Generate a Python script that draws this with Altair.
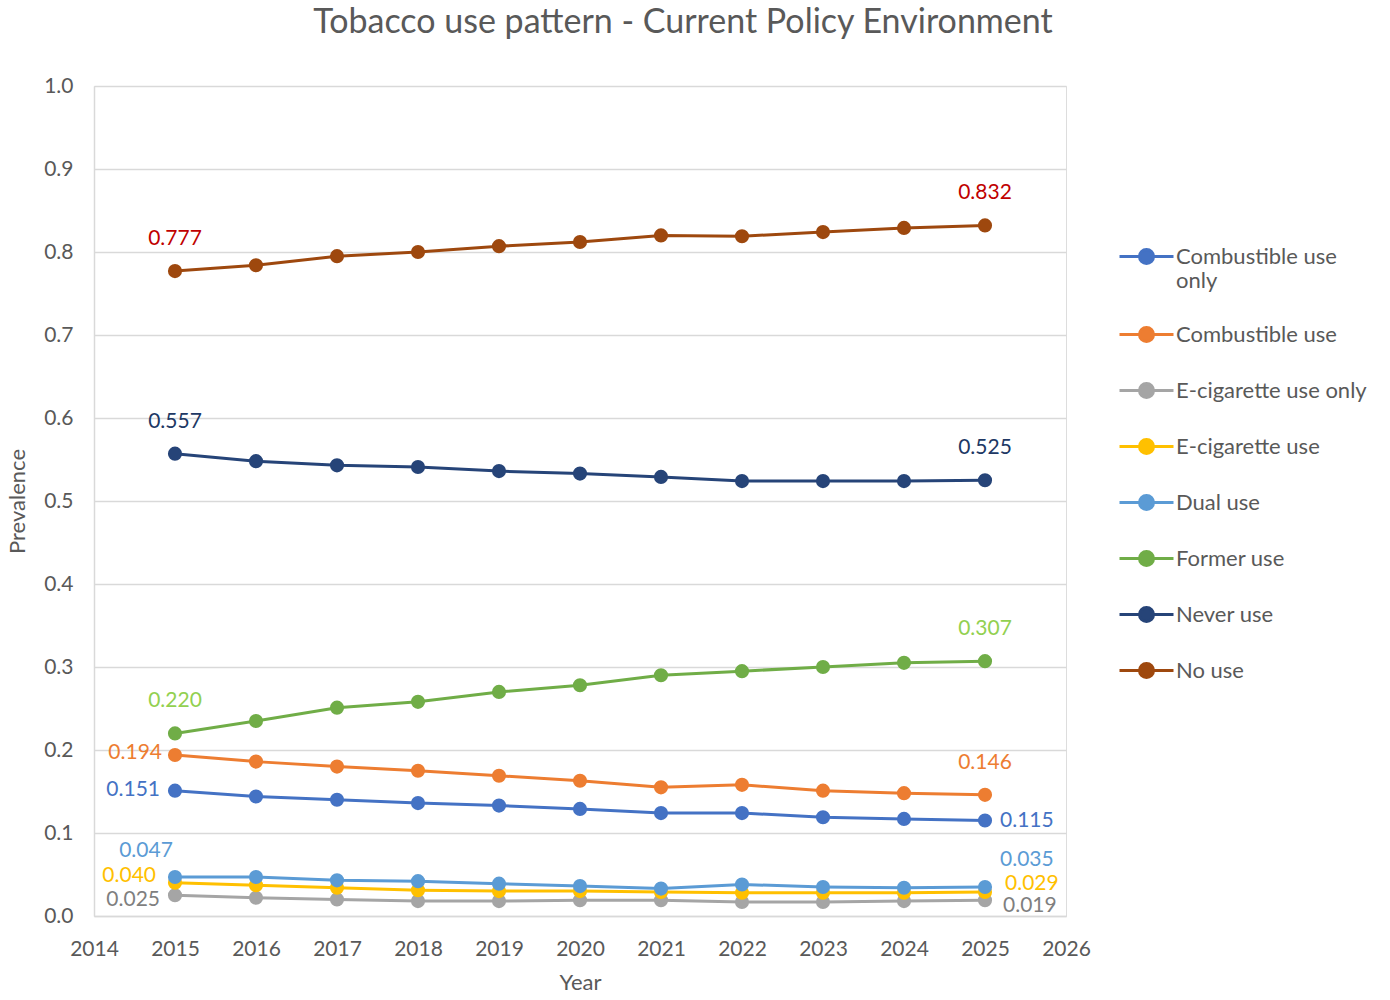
import altair as alt
import pandas as pd

# Projection years
years = [2015, 2016, 2017, 2018, 2019, 2020, 2021, 2022, 2023, 2024, 2025]

# Prevalence by tobacco use category
combustible_only = [0.151, 0.144, 0.140, 0.136, 0.133, 0.129, 0.124, 0.124, 0.119, 0.117, 0.115]
combustible = [0.194, 0.186, 0.180, 0.175, 0.169, 0.163, 0.155, 0.158, 0.151, 0.148, 0.146]
ecig_only = [0.025, 0.022, 0.020, 0.018, 0.018, 0.019, 0.019, 0.017, 0.017, 0.018, 0.019]
ecig = [0.040, 0.037, 0.034, 0.031, 0.030, 0.030, 0.029, 0.028, 0.028, 0.028, 0.029]
dual = [0.047, 0.047, 0.043, 0.042, 0.039, 0.036, 0.033, 0.038, 0.035, 0.034, 0.035]
former = [0.220, 0.235, 0.251, 0.258, 0.270, 0.278, 0.290, 0.295, 0.300, 0.305, 0.307]
never = [0.557, 0.548, 0.543, 0.541, 0.536, 0.533, 0.529, 0.524, 0.524, 0.524, 0.525]
no_use = [0.777, 0.784, 0.795, 0.800, 0.807, 0.812, 0.820, 0.819, 0.824, 0.829, 0.832]

series_names = [
    "Combustible use only", "Combustible use", "E-cigarette use only",
    "E-cigarette use", "Dual use", "Former use", "Never use", "No use",
]
series_values = [combustible_only, combustible, ecig_only, ecig, dual, former, never, no_use]
series_colors = ["#4472C4", "#ED7D31", "#A5A5A5", "#FFC000", "#5B9BD5", "#70AD47", "#264478", "#9E480E"]
label_colors = ["#4472C4", "#ED7D31", "#7F7F7F", "#FFC000", "#5B9BD5", "#92D050", "#203864", "#C00000"]

rows = []
for name, vals in zip(series_names, series_values):
    for yr, v in zip(years, vals):
        rows.append({"series": name, "year": yr, "value": v})
df = pd.DataFrame(rows)

TEXT = "#595959"
FONT = "Lato"

x_enc = alt.X(
    "year:Q",
    scale=alt.Scale(domain=[2014, 2026], nice=False, zero=False),
    axis=alt.Axis(
        values=list(range(2014, 2027)), format="d", grid=False, ticks=False,
        domainColor="#D9D9D9", domainWidth=1.5, labelFlush=False,
        labelFontSize=21, labelColor=TEXT, labelFont=FONT, labelPadding=22,
        title="Year", titleFontSize=22, titleColor=TEXT, titleFont=FONT,
        titleFontWeight="normal", titlePadding=13,
    ),
)
y_enc = alt.Y(
    "value:Q",
    scale=alt.Scale(domain=[0, 1], nice=False),
    axis=alt.Axis(
        values=[round(i * 0.1, 1) for i in range(11)], format=".1f",
        grid=True, gridColor="#D9D9D9", gridWidth=1.5, ticks=False,
        domainColor="#D9D9D9", domainWidth=1.5,
        labelFontSize=21, labelColor=TEXT, labelFont=FONT, labelPadding=21,
        title="Prevalence", titleFontSize=22, titleColor=TEXT, titleFont=FONT,
        titleFontWeight="normal", titlePadding=14,
    ),
)
color_scale = alt.Scale(domain=series_names, range=series_colors)

# Legend symbol: a short line with a dot in the middle
legend_symbol = "M-1,0L1,0M-0.26,0A0.26,0.26,0,1,1,0.26,0A0.26,0.26,0,1,1,-0.26,0Z"
legend = alt.Legend(
    title=None, orient="none", legendX=1024, legendY=142,
    symbolType=legend_symbol, symbolSize=2916, symbolStrokeWidth=3,
    symbolOpacity=1, labelFontSize=22, labelFont=FONT, labelColor=TEXT,
    labelOffset=1, labelLimit=320, rowPadding=14,
    labelExpr=(
        "datum.label == 'Combustible use only' ? ['Combustible use', 'only']"
        " : datum.label"
    ),
)
color_enc = alt.Color("series:N", scale=color_scale, sort=series_names, legend=legend)

base = alt.Chart(df)

lines = base.mark_line(strokeWidth=3).encode(x=x_enc, y=y_enc, color=color_enc)

points = base.mark_point(filled=True, size=200, opacity=1).encode(
    x="year:Q", y="value:Q", color=color_enc,
)

# Data label placements: (series, year, dx, dy, align)
label_places = [
    ("No use", 2015, 0, -32, "center"),
    ("No use", 2025, 0, -32, "center"),
    ("Never use", 2015, 0, -32, "center"),
    ("Never use", 2025, 0, -32, "center"),
    ("Former use", 2015, 0, -32, "center"),
    ("Former use", 2025, 0, -32, "center"),
    ("Combustible use", 2015, -13, -2, "right"),
    ("Combustible use", 2025, 0, -32, "center"),
    ("Combustible use only", 2015, -15, -1, "right"),
    ("Combustible use only", 2025, 15, 0, "left"),
    ("Dual use", 2015, -29, -26, "center"),
    ("Dual use", 2025, 15, -27, "left"),
    ("E-cigarette use", 2015, -19, -7, "right"),
    ("E-cigarette use", 2025, 20, -8, "left"),
    ("E-cigarette use only", 2015, -15, 5, "right"),
    ("E-cigarette use only", 2025, 18, 6, "left"),
]

label_layers = []
for name, yr, dx, dy, align in label_places:
    col = label_colors[series_names.index(name)]
    label_layers.append(
        base.transform_filter(
            (alt.datum.series == name) & (alt.datum.year == yr)
        ).mark_text(
            dx=dx, dy=dy, align=align, baseline="middle",
            fontSize=21, font=FONT, color=col,
        ).encode(
            x="year:Q", y="value:Q",
            text=alt.Text("value:Q", format=".3f"),
        )
    )

chart = alt.layer(lines, points, *label_layers).properties(
    width=972,
    height=830,
    autosize=alt.AutoSizeParams(type="none"),
    padding={"left": 94, "top": 86, "right": 324, "bottom": 84},
    title=alt.TitleParams(
        "Tobacco use pattern - Current Policy Environment",
        fontSize=34, font=FONT, color=TEXT, fontWeight="normal",
        anchor="middle", dx=103, offset=35,
    ),
).configure_view(strokeWidth=0).configure(background="white")

chart.save("out.html", embed_options={"renderer": "svg", "actions": False})
